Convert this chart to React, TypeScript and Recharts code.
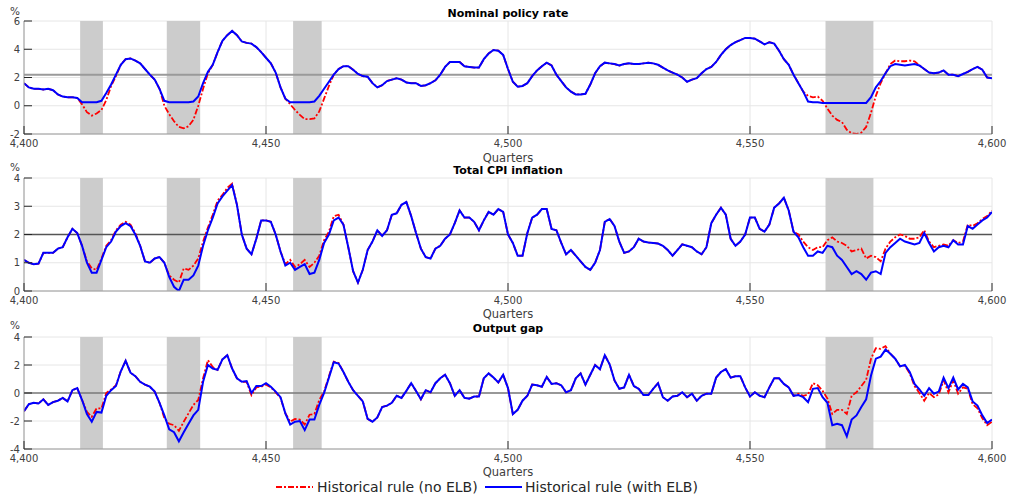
import { LineChart, Line, XAxis, YAxis, CartesianGrid, ReferenceArea, ReferenceLine } from 'recharts';

const quarters = Array.from({ length: 201 }, (_, i) => 4400 + i);
const quarterTicks = [4400, 4450, 4500, 4550, 4600];

// ELB episodes (grey shading)
const elbStart = [4411.6, 4429.5, 4455.6, 4565.6];
const elbEnd = [4416.3, 4436.4, 4461.5, 4575.5];

const policyNoElb = [
  1.6, 1.3, 1.2, 1.2, 1.15, 1.2, 1.1, 0.8, 0.65, 0.6,
  0.6, 0.55, 0.1, -0.45, -0.7, -0.55, -0.3, 0.4, 1.4, 2.1,
  2.9, 3.3, 3.35, 3.2, 3.0, 2.6, 2.2, 1.85, 1.2, 0.0,
  -0.6, -1.1, -1.5, -1.6, -1.45, -1.0, 0.0, 1.2, 2.3, 2.9,
  3.8, 4.6, 5.0, 5.3, 5.0, 4.55, 4.45, 4.4, 4.15, 3.8,
  3.4, 3.0, 2.35, 1.3, 0.5, 0.1, -0.3, -0.65, -0.95, -0.95,
  -0.9, -0.4, 0.5, 1.4, 2.2, 2.6, 2.8, 2.8, 2.55, 2.25,
  2.1, 2.05, 1.6, 1.3, 1.45, 1.75, 1.85, 1.95, 1.85, 1.65,
  1.6, 1.6, 1.4, 1.45, 1.6, 1.8, 2.2, 2.75, 3.1, 3.1,
  3.1, 2.8, 2.75, 2.7, 2.7, 3.3, 3.7, 3.95, 3.9, 3.6,
  2.6, 1.7, 1.35, 1.4, 1.6, 2.1, 2.5, 2.8, 3.05, 2.85,
  2.2, 1.75, 1.3, 1.0, 0.8, 0.8, 0.85, 1.5, 2.3, 2.8,
  3.05, 3.0, 2.95, 2.85, 2.95, 3.0, 2.95, 2.95, 3.0, 3.05,
  3.0, 2.9, 2.7, 2.5, 2.35, 2.2, 2.0, 1.7, 1.85, 1.95,
  2.3, 2.6, 2.75, 3.1, 3.6, 4.0, 4.3, 4.5, 4.65, 4.8,
  4.8, 4.75, 4.55, 4.35, 4.5, 4.4, 3.9, 3.3, 2.9, 2.2,
  1.6, 1.0, 0.7, 0.6, 0.65, 0.35, -0.2, -0.7, -1.0, -1.15,
  -1.7, -1.95, -2.0, -1.9, -1.5, -0.5, 0.7, 1.6, 2.3, 2.95,
  3.2, 3.15, 3.15, 3.2, 3.15, 2.85, 2.6, 2.35, 2.3, 2.35,
  2.5, 2.2, 2.2, 2.1, 2.25, 2.4, 2.6, 2.75, 2.55, 2.0,
  1.95,
];

const policyElb = [
  1.6, 1.3, 1.2, 1.2, 1.15, 1.2, 1.1, 0.8, 0.65, 0.6,
  0.6, 0.55, 0.25, 0.25, 0.25, 0.25, 0.35, 0.9, 1.5, 2.2,
  2.9, 3.3, 3.35, 3.2, 3.0, 2.6, 2.2, 1.85, 1.2, 0.35,
  0.25, 0.25, 0.25, 0.25, 0.25, 0.3, 0.65, 1.6, 2.4, 2.9,
  3.8, 4.6, 5.0, 5.3, 5.0, 4.55, 4.45, 4.4, 4.15, 3.8,
  3.4, 3.0, 2.35, 1.3, 0.5, 0.25, 0.25, 0.25, 0.25, 0.25,
  0.3, 0.7, 1.2, 1.7, 2.2, 2.6, 2.8, 2.8, 2.55, 2.25,
  2.1, 2.05, 1.6, 1.3, 1.45, 1.75, 1.85, 1.95, 1.85, 1.65,
  1.6, 1.6, 1.4, 1.45, 1.6, 1.8, 2.2, 2.75, 3.1, 3.1,
  3.1, 2.8, 2.75, 2.7, 2.7, 3.3, 3.7, 3.95, 3.9, 3.6,
  2.6, 1.7, 1.35, 1.4, 1.6, 2.1, 2.5, 2.8, 3.05, 2.85,
  2.2, 1.75, 1.3, 1.0, 0.8, 0.8, 0.85, 1.5, 2.3, 2.8,
  3.05, 3.0, 2.95, 2.85, 2.95, 3.0, 2.95, 2.95, 3.0, 3.05,
  3.0, 2.9, 2.7, 2.5, 2.35, 2.2, 2.0, 1.7, 1.85, 1.95,
  2.3, 2.6, 2.75, 3.1, 3.6, 4.0, 4.3, 4.5, 4.65, 4.8,
  4.8, 4.75, 4.55, 4.35, 4.5, 4.4, 3.9, 3.3, 2.9, 2.2,
  1.6, 1.0, 0.3, 0.25, 0.25, 0.2, 0.2, 0.2, 0.2, 0.2,
  0.2, 0.2, 0.2, 0.2, 0.2, 0.6, 1.3, 1.75, 2.3, 2.8,
  2.95, 2.9, 2.85, 2.9, 2.95, 2.85, 2.6, 2.35, 2.3, 2.35,
  2.5, 2.2, 2.2, 2.1, 2.25, 2.4, 2.6, 2.75, 2.55, 2.0,
  1.95,
];

const cpiNoElb = [
  1.1, 1.0, 0.95, 0.97, 1.35, 1.35, 1.35, 1.5, 1.55, 1.9,
  2.2, 2.05, 1.6, 1.05, 0.8, 0.75, 1.15, 1.6, 1.8, 2.15,
  2.35, 2.45, 2.35, 2.05, 1.6, 1.05, 1.0, 1.15, 1.2, 1.0,
  0.55, 0.4, 0.3, 0.8, 0.75, 0.9, 1.15, 1.75, 2.25, 2.7,
  3.2, 3.4, 3.65, 3.8, 3.05, 2.0, 1.5, 1.3, 1.85, 2.5,
  2.5, 2.45, 2.0, 1.4, 0.95, 1.1, 0.85, 0.95, 1.1, 0.85,
  1.0, 1.25, 1.8, 2.1, 2.65, 2.7, 2.35, 1.55, 0.7, 0.3,
  0.75, 1.45, 1.75, 2.15, 1.95, 2.15, 2.7, 2.75, 3.05, 3.15,
  2.65, 2.05, 1.5, 1.2, 1.15, 1.5, 1.6, 1.85, 2.0, 2.4,
  2.85, 2.6, 2.6, 2.45, 2.15, 2.5, 2.8, 2.7, 2.9, 2.8,
  2.0, 1.7, 1.25, 1.25, 2.05, 2.6, 2.7, 2.9, 2.9, 2.2,
  2.15, 1.7, 1.3, 1.45, 1.25, 1.05, 0.85, 0.75, 1.0, 1.45,
  2.45, 2.55, 2.3, 1.75, 1.35, 1.4, 1.55, 1.85, 1.75, 1.72,
  1.7, 1.68, 1.6, 1.45, 1.25, 1.45, 1.65, 1.6, 1.55, 1.4,
  1.3, 1.55, 2.4, 2.7, 2.95, 2.7, 1.85, 1.6, 1.75, 2.0,
  2.6, 2.6, 2.2, 2.1, 2.35, 2.95, 3.1, 3.3, 2.85, 2.1,
  2.0, 1.75, 1.55, 1.45, 1.55, 1.55, 1.8, 1.9, 1.75, 1.7,
  1.6, 1.4, 1.45, 1.5, 1.15, 1.25, 1.2, 1.05, 1.5, 1.75,
  1.9, 2.0, 1.95, 1.85, 1.85, 1.9, 2.15, 1.75, 1.55, 1.6,
  1.65, 1.6, 1.8, 1.7, 1.75, 2.35, 2.3, 2.4, 2.55, 2.65,
  2.85,
];

const cpiElb = [
  1.1, 1.0, 0.95, 0.97, 1.35, 1.35, 1.35, 1.5, 1.55, 1.9,
  2.2, 2.05, 1.6, 1.0, 0.65, 0.65, 1.1, 1.55, 1.75, 2.1,
  2.3, 2.4, 2.3, 2.0, 1.6, 1.05, 1.0, 1.15, 1.2, 1.0,
  0.5, 0.15, 0.0, 0.4, 0.4, 0.55, 0.9, 1.6, 2.15, 2.6,
  3.1, 3.35, 3.55, 3.75, 3.05, 2.0, 1.5, 1.3, 1.85, 2.5,
  2.5, 2.45, 2.0, 1.4, 0.9, 1.0, 0.75, 0.85, 0.95, 0.6,
  0.65, 1.1, 1.7, 2.0, 2.5, 2.6, 2.35, 1.55, 0.7, 0.3,
  0.75, 1.45, 1.75, 2.15, 1.95, 2.15, 2.7, 2.75, 3.05, 3.15,
  2.65, 2.05, 1.5, 1.2, 1.15, 1.5, 1.6, 1.85, 2.0, 2.4,
  2.85, 2.6, 2.6, 2.45, 2.15, 2.5, 2.8, 2.7, 2.9, 2.8,
  2.0, 1.7, 1.25, 1.25, 2.05, 2.6, 2.7, 2.9, 2.9, 2.2,
  2.15, 1.7, 1.3, 1.45, 1.25, 1.05, 0.85, 0.75, 1.0, 1.45,
  2.45, 2.55, 2.3, 1.75, 1.35, 1.4, 1.55, 1.85, 1.75, 1.72,
  1.7, 1.68, 1.6, 1.45, 1.25, 1.45, 1.65, 1.6, 1.55, 1.4,
  1.3, 1.55, 2.4, 2.7, 2.95, 2.7, 1.85, 1.6, 1.75, 2.0,
  2.6, 2.6, 2.2, 2.1, 2.35, 2.95, 3.1, 3.3, 2.85, 2.1,
  1.9, 1.55, 1.25, 1.25, 1.4, 1.35, 1.6, 1.55, 1.25, 1.1,
  0.85, 0.6, 0.7, 0.6, 0.4, 0.65, 0.7, 0.6, 1.35, 1.55,
  1.7, 1.85, 1.75, 1.7, 1.65, 1.7, 2.05, 1.7, 1.4, 1.55,
  1.6, 1.55, 1.8, 1.65, 1.65, 2.3, 2.2, 2.35, 2.5, 2.6,
  2.8,
];

const gapNoElb = [
  -1.3, -0.8, -0.7, -0.75, -0.45, -0.85, -0.65, -0.55, -0.35, -0.6,
  0.2, 0.35, -0.5, -1.35, -1.7, -1.1, -1.1, 0.0, 0.25, 0.55,
  1.55, 2.3, 1.45, 1.2, 0.8, 0.6, 0.45, 0.1, -0.7, -1.8,
  -2.2, -2.3, -2.7, -2.05, -1.45, -0.85, -0.5, 1.05, 2.35, 1.85,
  1.65, 2.4, 2.7, 1.75, 1.05, 0.8, 0.8, -0.15, 0.4, 0.45,
  0.6, 0.4, 0.05, -0.35, -1.45, -2.05, -1.85, -1.9, -2.25, -1.55,
  -1.5, -0.5, 0.1, 1.2, 2.25, 2.15, 1.5, 0.8, 0.2, -0.2,
  -0.6, -1.85, -2.05, -1.75, -1.0, -0.9, -0.7, -0.2, -0.35, 0.15,
  0.7, 0.15, -0.45, 0.2, 0.05, 0.7, 1.05, 1.3, 0.7, -0.2,
  0.2, -0.35, -0.4, -0.25, -0.25, 1.05, 1.4, 1.1, 0.75, 1.3,
  0.35, -1.5, -1.2, -0.55, -0.2, 0.6, 0.55, 0.45, 1.15, 0.65,
  0.7, 0.55, 0.05, 0.2, 1.05, 1.4, 0.6, 1.3, 2.0, 1.7,
  2.7, 2.05, 0.9, 0.3, 0.4, 1.3, 0.5, 0.3, -0.15, -0.15,
  0.3, 0.7, -0.3, -0.55, -0.25, -0.2, 0.05, -0.3, -0.05, -0.55,
  -0.2, -0.05, -0.05, 1.1, 1.5, 1.7, 1.1, 1.2, 1.2, 0.4,
  -0.25, 0.05, -0.2, -0.3, 0.4, 1.05, 1.05, 0.65, 0.4, -0.2,
  -0.05, -0.2, -0.1, 0.7, 0.55, 0.15, -0.4, -1.5, -1.2, -1.2,
  -1.5, -0.2, 0.05, 0.5, 0.95, 2.45, 3.2, 3.15, 3.35, 2.8,
  2.45, 1.9, 1.95, 1.4, 0.5, 0.0, -0.55, 0.0, -0.3, -0.1,
  0.9, 0.05, 0.9, -0.05, 0.4, 0.3, -0.8, -1.1, -1.8, -2.3,
  -2.05,
];

const gapElb = [
  -1.3, -0.8, -0.7, -0.75, -0.45, -0.85, -0.65, -0.55, -0.35, -0.6,
  0.2, 0.35, -0.5, -1.5, -2.05, -1.35, -1.4, -0.2, 0.2, 0.5,
  1.55, 2.3, 1.45, 1.2, 0.8, 0.6, 0.45, 0.1, -0.7, -1.6,
  -2.6, -2.8, -3.45, -2.8, -2.2, -1.6, -1.2, 0.8, 2.0, 1.75,
  1.65, 2.4, 2.7, 1.75, 1.05, 0.8, 0.85, 0.0, 0.5, 0.5,
  0.7, 0.45, 0.1, -0.3, -1.45, -2.25, -2.05, -2.0, -2.65, -1.9,
  -1.9, -0.85, 0.0, 1.1, 2.2, 2.1, 1.5, 0.8, 0.2, -0.2,
  -0.6, -1.85, -2.05, -1.75, -1.0, -0.9, -0.7, -0.2, -0.35, 0.15,
  0.7, 0.15, -0.45, 0.2, 0.05, 0.7, 1.05, 1.3, 0.7, -0.2,
  0.2, -0.35, -0.4, -0.25, -0.25, 1.05, 1.4, 1.1, 0.75, 1.3,
  0.35, -1.5, -1.2, -0.55, -0.2, 0.6, 0.55, 0.45, 1.15, 0.65,
  0.7, 0.55, 0.05, 0.2, 1.05, 1.4, 0.6, 1.3, 2.0, 1.7,
  2.7, 2.05, 0.9, 0.3, 0.4, 1.3, 0.5, 0.3, -0.15, -0.15,
  0.3, 0.7, -0.3, -0.55, -0.25, -0.2, 0.05, -0.3, -0.05, -0.55,
  -0.2, -0.05, -0.05, 1.1, 1.5, 1.7, 1.1, 1.2, 1.2, 0.4,
  -0.25, 0.05, -0.2, -0.3, 0.4, 1.05, 1.05, 0.65, 0.4, -0.2,
  -0.15, -0.3, -0.65, 0.3, 0.35, -0.3, -0.7, -2.3, -2.2, -2.3,
  -3.1, -1.9, -1.6, -1.0, -0.45, 1.25, 2.45, 2.6, 3.1, 2.8,
  2.45, 1.9, 2.0, 1.5, 0.65, 0.25, -0.2, 0.35, -0.05, 0.1,
  1.1, 0.35, 1.1, 0.25, 0.65, 0.4, -0.6, -0.9, -1.6, -2.15,
  -1.9,
];

const policyTicks = [-2, 0, 2, 4, 6];
const cpiTicks = [0, 1, 2, 3, 4];
const gapTicks = [-4, -2, 0, 2, 4];

// horizontal reference lines
const policyNeutral = 2.2;
const cpiTarget = 2;
const gapZero = 0;

const FONT = '"DejaVu Sans", sans-serif';
const TICK_COLOR = '#262626';
const BOX_COLOR = '#9a9a9a';

const fmt = (v: number) => v.toLocaleString('en-US');

// inward tick marks + outside labels, MATLAB style
const BottomTick = (p: any) => (
  <g>
    <line x1={p.x} x2={p.x} y1={p.y - 6} y2={p.y - 14} stroke={TICK_COLOR} />
    <text x={p.x} y={p.y} dy="0.71em" textAnchor="middle" fontSize={10} fontFamily={FONT} fill="#404040">
      {fmt(p.payload.value)}
    </text>
  </g>
);

const TopTick = (p: any) => <line x1={p.x} x2={p.x} y1={p.y} y2={p.y + 8} stroke={TICK_COLOR} />;

const LeftTick = (p: any) => (
  <g>
    <line x1={p.x + 4} x2={p.x + 12} y1={p.y} y2={p.y} stroke={TICK_COLOR} />
    <text x={p.x} y={p.y} dy="0.355em" textAnchor="end" fontSize={10} fontFamily={FONT} fill="#404040">
      {p.payload.value}
    </text>
  </g>
);

const RightTick = (p: any) => <line x1={p.x - 8} x2={p.x} y1={p.y} y2={p.y} stroke={TICK_COLOR} />;

interface PanelProps {
  top: number;
  height: number;
  marginTop: number;
  marginBottom: number;
  noElb: number[];
  elb: number[];
  yTicks: number[];
  refY: number;
  refColor: string;
  refWidth: number;
}

const Panel = ({ top, height, marginTop, marginBottom, noElb, elb, yTicks, refY, refColor, refWidth }: PanelProps) => {
  const data = quarters.map((q, i) => ({ q, noElb: noElb[i], elb: elb[i] }));
  const domain = [yTicks[0], yTicks[yTicks.length - 1]];
  return (
    <div style={{ position: 'absolute', left: 0, top, width: 1009, height }}>
      <LineChart width={1009} height={height} data={data} margin={{ top: marginTop, right: 17, bottom: marginBottom, left: 0 }}>
        <CartesianGrid stroke="#e6e6e6" />
        {elbStart.map((s, i) => (
          <ReferenceArea key={i} x1={s} x2={elbEnd[i]} fill="#cccccc" fillOpacity={1} stroke="none" />
        ))}
        <ReferenceLine y={refY} stroke={refColor} strokeWidth={refWidth} />
        <XAxis
          dataKey="q"
          type="number"
          domain={[4400, 4600]}
          ticks={quarterTicks}
          interval={0}
          allowDataOverflow
          height={20}
          tickSize={0}
          tickMargin={6}
          stroke={BOX_COLOR}
          tick={BottomTick}
        />
        <XAxis
          xAxisId="top"
          orientation="top"
          type="number"
          domain={[4400, 4600]}
          ticks={quarterTicks}
          interval={0}
          allowDataOverflow
          height={0}
          tickSize={0}
          tickMargin={0}
          stroke={BOX_COLOR}
          tick={TopTick}
        />
        <YAxis
          type="number"
          domain={domain}
          ticks={yTicks}
          interval={0}
          allowDataOverflow
          width={24}
          tickSize={0}
          tickMargin={4}
          stroke={BOX_COLOR}
          tick={LeftTick}
        />
        <YAxis
          yAxisId="right"
          orientation="right"
          type="number"
          domain={domain}
          ticks={yTicks}
          interval={0}
          allowDataOverflow
          width={0}
          tickSize={0}
          tickMargin={0}
          stroke={BOX_COLOR}
          tick={RightTick}
        />
        <Line
          type="linear"
          dataKey="noElb"
          stroke="#ff0000"
          strokeWidth={1.8}
          strokeDasharray="6 2 2 2"
          dot={false}
          isAnimationActive={false}
        />
        <Line type="linear" dataKey="elb" stroke="#0000ff" strokeWidth={2} dot={false} isAnimationActive={false} />
      </LineChart>
    </div>
  );
};

export default function App() {
  const label = { fontFamily: FONT, fill: '#404040' };
  return (
    <div style={{ position: 'absolute', left: 0, top: 0, width: 1009, height: 500, background: '#fff', overflow: 'hidden' }}>
      <Panel top={0} height={160} marginTop={21} marginBottom={6} noElb={policyNoElb} elb={policyElb} yTicks={policyTicks} refY={policyNeutral} refColor="#9a9a9a" refWidth={2} />
      <Panel top={160} height={155} marginTop={18} marginBottom={4} noElb={cpiNoElb} elb={cpiElb} yTicks={cpiTicks} refY={cpiTarget} refColor="#555555" refWidth={1.3} />
      <Panel top={315} height={160} marginTop={22} marginBottom={6} noElb={gapNoElb} elb={gapElb} yTicks={gapTicks} refY={gapZero} refColor="#7a7a7a" refWidth={1.5} />

      <svg width={1009} height={500} style={{ position: 'absolute', left: 0, top: 0, pointerEvents: 'none' }}>
        <text x={508} y={13} dominantBaseline="central" textAnchor="middle" fontSize={11} fontWeight="bold" fontFamily={FONT} fill="#000">
          Nominal policy rate
        </text>
        <text x={508} y={170} dominantBaseline="central" textAnchor="middle" fontSize={11} fontWeight="bold" fontFamily={FONT} fill="#000">
          Total CPI inflation
        </text>
        <text x={508} y={328} dominantBaseline="central" textAnchor="middle" fontSize={11} fontWeight="bold" fontFamily={FONT} fill="#000">
          Output gap
        </text>

        <text x={508} y={158} dominantBaseline="central" textAnchor="middle" fontSize={11.5} {...label}>Quarters</text>
        <text x={508} y={314} dominantBaseline="central" textAnchor="middle" fontSize={11.5} {...label}>Quarters</text>
        <text x={508} y={472} dominantBaseline="central" textAnchor="middle" fontSize={11.5} {...label}>Quarters</text>

        <text x={15} y={10.5} dominantBaseline="central" textAnchor="middle" fontSize={10.5} {...label}>%</text>
        <text x={15} y={167} dominantBaseline="central" textAnchor="middle" fontSize={10.5} {...label}>%</text>
        <text x={15} y={325} dominantBaseline="central" textAnchor="middle" fontSize={10.5} {...label}>%</text>

        <line x1={276} x2={313} y1={487} y2={487} stroke="#ff0000" strokeWidth={1.8} strokeDasharray="6 2 2 2" />
        <text x={317} y={487} dominantBaseline="central" fontSize={14} fontFamily={FONT} fill="#262626">
          Historical rule (no ELB)
        </text>
        <line x1={485} x2={522} y1={487} y2={487} stroke="#0000ff" strokeWidth={2} />
        <text x={525} y={487} dominantBaseline="central" fontSize={14} fontFamily={FONT} fill="#262626">
          Historical rule (with ELB)
        </text>
      </svg>
    </div>
  );
}
